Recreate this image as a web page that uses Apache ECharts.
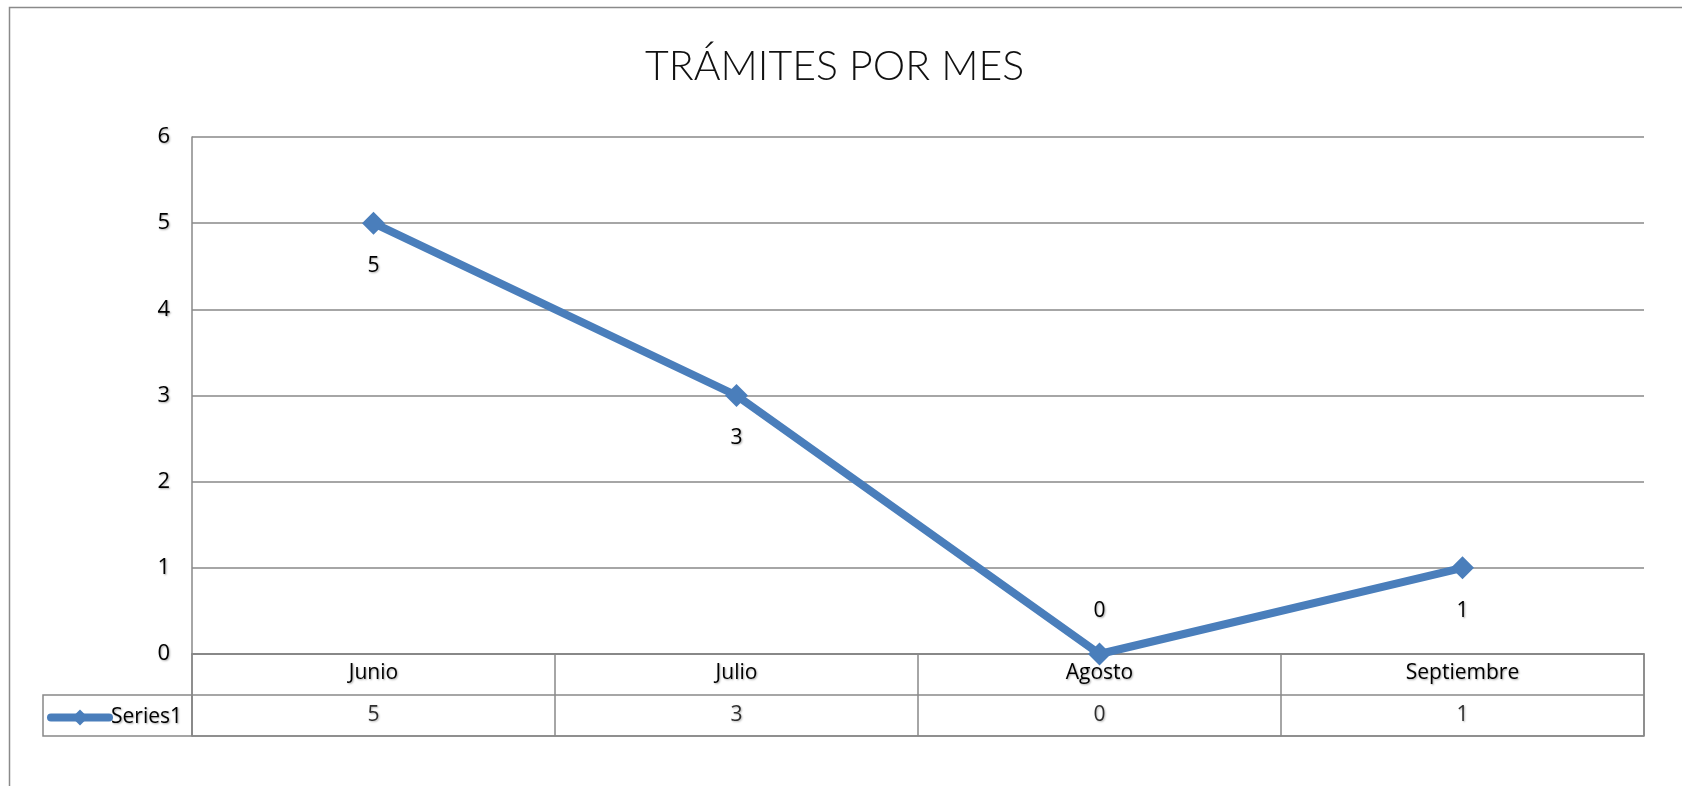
<!DOCTYPE html>
<html>
<head>
<meta charset="utf-8">
<script src="https://cdn.jsdelivr.net/npm/echarts@6/dist/echarts.min.js"></script>
<style>
  html, body { margin: 0; padding: 0; background: #fff; }
  #chart { width: 1682px; height: 786px; }
</style>
</head>
<body>
<div id="chart"></div>
<script>
// datos del gráfico
const months = ['Junio', 'Julio', 'Agosto', 'Septiembre']
const tramites = [5, 3, 0, 1]
const seriesName = 'Series1'
const yTicks = [0, 1, 2, 3, 4, 5, 6]

const blue = '#4A7EBB'
const gridGray = '#888888'
const labelFont = '"Open Sans", "Noto Sans", sans-serif'
const shadow = {
  textShadowColor: 'rgba(0,0,0,0.35)',
  textShadowBlur: 2,
  textShadowOffsetX: 1,
  textShadowOffsetY: 1
}

const chart = echarts.init(document.getElementById('chart'))

const option = {
  animation: false,
  backgroundColor: '#fff',
  title: {
    text: 'TRÁMITES POR MES',
    left: 640,
    top: 41,
    textStyle: {
      fontFamily: 'Lato, "Noto Sans", sans-serif',
      fontWeight: 300,
      fontSize: 41,
      color: '#111'
    }
  },
  legend: {
    data: [seriesName],
    left: 42,
    top: 702,
    itemWidth: 58,
    itemHeight: 20,
    itemGap: 0,
    lineStyle: { width: 8, cap: 'round' },
    textStyle: { fontFamily: labelFont, fontSize: 21, color: '#000', padding: [0, 0, 0, -3], ...shadow }
  },
  graphic: [
    // marco exterior
    { type: 'rect', shape: { x: 9.5, y: 7.5, width: 1700, height: 800 }, style: { fill: 'none', stroke: '#8a8a8a', lineWidth: 1.5 }, silent: true },
    // celda de la leyenda
    { type: 'rect', shape: { x: 43, y: 695, width: 149, height: 41 }, style: { fill: 'none', stroke: gridGray, lineWidth: 1.5 }, silent: true }
  ],
  grid: [
    { left: 192, right: 38, top: 137, bottom: 132 },
    { left: 192, right: 38, top: 654, height: 82, show: true, borderColor: gridGray, borderWidth: 1.5 }
  ],
  xAxis: [
    {
      type: 'category',
      gridIndex: 0,
      data: months,
      boundaryGap: true,
      axisLine: { show: true, lineStyle: { color: gridGray, width: 1.5 } },
      axisTick: { show: false },
      axisLabel: { color: '#000', fontFamily: labelFont, fontSize: 21, margin: 9, ...shadow }
    },
    {
      type: 'category',
      gridIndex: 1,
      data: months,
      boundaryGap: true,
      axisLine: { show: false },
      axisTick: { show: false },
      axisLabel: { show: false },
      splitLine: { show: true, lineStyle: { color: gridGray, width: 1.5 } }
    }
  ],
  yAxis: [
    {
      type: 'value',
      gridIndex: 0,
      min: yTicks[0],
      max: yTicks[yTicks.length - 1],
      interval: 1,
      axisLine: { show: true, lineStyle: { color: gridGray, width: 1.5 } },
      axisTick: { show: false },
      axisLabel: { color: '#000', fontFamily: labelFont, fontSize: 22, margin: 22, ...shadow },
      splitLine: { show: true, lineStyle: { color: gridGray, width: 1.5 } }
    },
    {
      type: 'category',
      gridIndex: 1,
      data: ['valores', 'meses'],
      boundaryGap: true,
      axisLine: { show: false },
      axisTick: { show: false },
      axisLabel: { show: false },
      splitLine: { show: true, lineStyle: { color: gridGray, width: 1.5 } }
    }
  ],
  series: [
    {
      name: seriesName,
      type: 'line',
      xAxisIndex: 0,
      yAxisIndex: 0,
      data: tramites.map(v => ({
        value: v,
        label: { position: v === 0 ? 'top' : 'bottom' }
      })),
      symbol: 'diamond',
      symbolSize: 23,
      itemStyle: { color: blue },
      lineStyle: { color: blue, width: 8 },
      label: {
        show: true,
        distance: 21,
        color: '#000',
        fontFamily: labelFont,
        fontSize: 21,
        ...shadow
      }
    },
    {
      // fila de valores de la tabla de datos
      type: 'scatter',
      xAxisIndex: 1,
      yAxisIndex: 1,
      symbolSize: 0,
      silent: true,
      data: months.map((m, i) => [m, 'valores', tramites[i]]),
      label: {
        show: true,
        position: 'inside',
        formatter: p => String(p.value[2]),
        color: '#000',
        fontFamily: labelFont,
        fontSize: 21,
        ...shadow
      }
    }
  ]
}

chart.setOption(option)
window.addEventListener('resize', () => chart.resize())
</script>
</body>
</html>
